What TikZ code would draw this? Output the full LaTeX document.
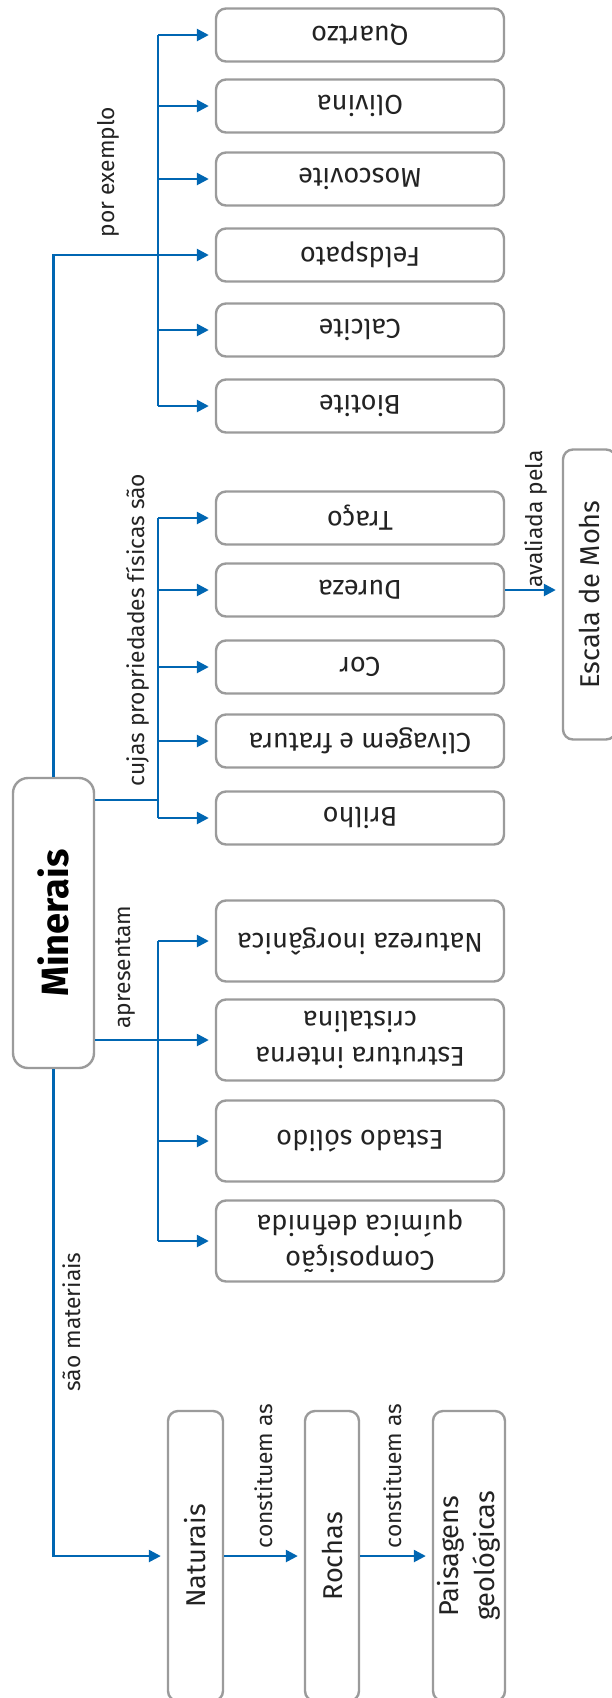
\documentclass[tikz,border=0pt]{standalone}
\usepackage{fontspec}
\setmainfont{Fira Sans}
\usetikzlibrary{arrows.meta}
\definecolor{mapblue}{RGB}{0,102,178}
\definecolor{boxgray}{RGB}{155,155,155}
\definecolor{inkgray}{RGB}{35,35,35}
\tikzset{
  box/.style={rectangle, rounded corners=5pt, draw=boxgray, line width=1.2pt,
              fill=white, inner sep=0pt, text=inkgray, align=center,
              font=\fontsize{13.6}{18}\selectfont},
  flatbox/.style={box, rotate=180, minimum width=144pt, minimum height=26.5pt},
  widebox/.style={box, rotate=180, minimum width=144pt, minimum height=40.5pt},
  tallbox/.style={box, rotate=90, minimum width=145pt, minimum height=#1},
  conn/.style={-{Triangle[length=6pt,width=6pt]}, draw=mapblue, line width=1.25pt,
               shorten >=3pt},
  link/.style={draw=mapblue, line width=1.25pt},
  linklabel/.style={rotate=90, inner sep=0pt, text=inkgray,
                    font=\fontsize{11.4}{14}\selectfont},
}
\begin{document}
\begin{tikzpicture}[x=0.5pt, y=-0.5pt]
  \useasboundingbox (0,0) rectangle (611,1698);
  % central concept
  \node[box, rotate=90, rounded corners=7.5pt, minimum width=145pt, minimum height=40.5pt,
        text=black, font=\fontsize{19}{22}\selectfont\bfseries] (min) at (53.5,923) {Minerais};
  % examples
  \node[flatbox] (quartzo) at (360,35) {Quartzo};
  \node[flatbox] (olivina) at (360,106) {Olivina};
  \node[flatbox] (moscovite) at (360,179) {Moscovite};
  \node[flatbox] (feldspato) at (360,255) {Feldspato};
  \node[flatbox] (calcite) at (360,330) {Calcite};
  \node[flatbox] (biotite) at (360,406) {Biotite};
  % physical properties
  \node[flatbox] (traco) at (360,518) {Traço};
  \node[flatbox] (dureza) at (360,590) {Dureza};
  \node[flatbox] (cor) at (360,667) {Cor};
  \node[flatbox] (clivagem) at (360,741) {Clivagem e fratura};
  \node[flatbox] (brilho) at (360,818) {Brilho};
  % characteristics
  \node[widebox] (natureza) at (360,941) {Natureza inorgânica};
  \node[widebox] (estrutura) at (360,1040) {Estrutura interna\\cristalina};
  \node[widebox] (estado) at (360,1141) {Estado sólido};
  \node[widebox] (composicao) at (360,1241) {Composição\\química definida};
  % tall boxes
  \node[tallbox=26.5pt] (escala) at (589.5,594.5) {Escala de Mohs};
  \node[tallbox=27.5pt] (naturais) at (195.5,1556) {Naturais};
  \node[tallbox=27pt] (rochas) at (332,1556) {Rochas};
  \node[tallbox=36pt] (paisagens) at (469,1556) {Paisagens\\geológicas};

  \coordinate (exX) at (158,0);
  \coordinate (propJ) at (158,800);
  % examples branch (min is turned: east faces up, west down, south right)
  \draw[link] (quartzo -| exX) -- (biotite -| exX);
  \foreach \n in {quartzo,olivina,moscovite,calcite,biotite}
    \draw[conn] (\n -| exX) -- (\n);
  \draw[conn] (min.east) |- (feldspato);
  % properties branch
  \draw[link] (traco -| exX) -- (brilho -| exX);
  \draw[link] (propJ -| min.south) -- (propJ);
  \foreach \n in {traco,dureza,cor,clivagem,brilho}
    \draw[conn] (\n -| exX) -- (\n);
  \draw[conn] (dureza) -- (dureza -| escala.north);
  % characteristics branch
  \draw[link] (natureza -| exX) -- (composicao -| exX);
  \foreach \n in {natureza,estado,composicao}
    \draw[conn] (\n -| exX) -- (\n);
  \draw[conn] (min.south |- estrutura) -- (estrutura);
  % bottom chain
  \draw[conn] (min.west) |- (naturais);
  \draw[conn] (naturais) -- (rochas);
  \draw[conn] (rochas) -- (paisagens);

  % link labels
  \node[linklabel] (lblEx) at (108,172) {por exemplo};
  \node[linklabel] (lblProp) at (138,630) {cujas propriedades físicas são};
  \node[linklabel] (lblHas) at (125,967) {apresentam};
  \node[linklabel] (lblMat) at (72,1322) {são materiais};
  \node[linklabel] (lblRock) at (264,1476) {constituem as};
  \node[linklabel] (lblLand) at (393,1476) {constituem as};
  \node[linklabel] (lblMohs) at (536,519) {avaliada pela};
\end{tikzpicture}
\end{document}
